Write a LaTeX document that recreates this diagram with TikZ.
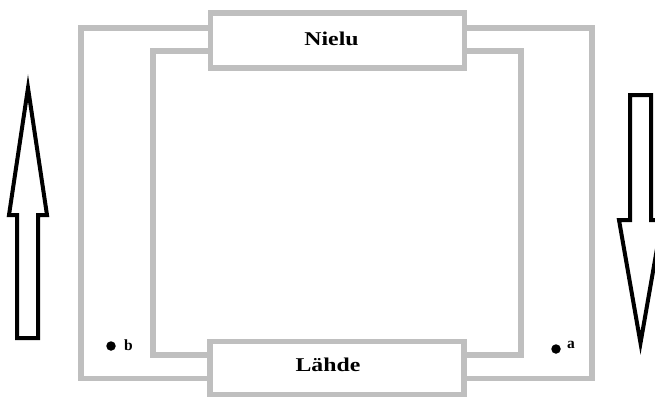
\documentclass[tikz,border=0pt]{standalone}
\usepackage{fontspec}
\setmainfont{Liberation Serif}
\newfontfamily\boxfont[FakeStretch=1.22]{Liberation Serif}
\begin{document}
\begin{tikzpicture}[x=1pt,y=-1pt,
  wire/.style={draw=black!25,line width=5.5pt},
  unit/.style={wire,fill=white,minimum width=254pt,inner sep=0pt},
  unittext/.style={font=\boxfont\bfseries\fontsize{19.5}{21}\selectfont,inner sep=0pt,anchor=base},
  flow/.style={draw=black,line width=4pt,line join=miter,fill=white},
  terminal/.style={circle,fill=black,inner sep=0pt,minimum size=9.5pt},
  tlabel/.style={font=\bfseries\fontsize{15.5}{17}\selectfont,inner sep=0pt,anchor=base west}]
\useasboundingbox (0,0) rectangle (655,397);
\clip (0,0) rectangle (655,397);

% circuit wires, outer and inner loops
\draw[wire] (210,28) -- (81,28) -- (81,378.5) -- (210,378.5);
\draw[wire] (210,51) -- (153,51) -- (153,355) -- (210,355);
\draw[wire] (464,28) -- (592,28) -- (592,378.5) -- (464,378.5);
\draw[wire] (464,51) -- (521,51) -- (521,355) -- (464,355);

% load and source boxes
\node[unit,minimum height=55pt] (nielu) at (337.5,40.5) {};
\node[unit,minimum height=53pt] (lahde) at (337,368) {};
\node[unittext] (nielutext) at (331.5,45) {Nielu};
\node[unittext] (lahdetext) at (328,371) {Lähde};

% terminals
\node[terminal] (b) at (111,346) {};
\node[tlabel] (blabel) at (124,350) {b};
\node[terminal] (a) at (556,349) {};
\node[tlabel] (alabel) at (567,348) {a};

% current direction arrows
\draw[flow] (17,338) -- (17,215) -- (9,215) -- (28,88) -- (47,215) -- (38,215) -- (38,338) -- cycle;
\draw[flow] (630,95) -- (651,95) -- (651,220) -- (662,220) -- (640.5,343) -- (619,220) -- (630,220) -- cycle;
\end{tikzpicture}
\end{document}
